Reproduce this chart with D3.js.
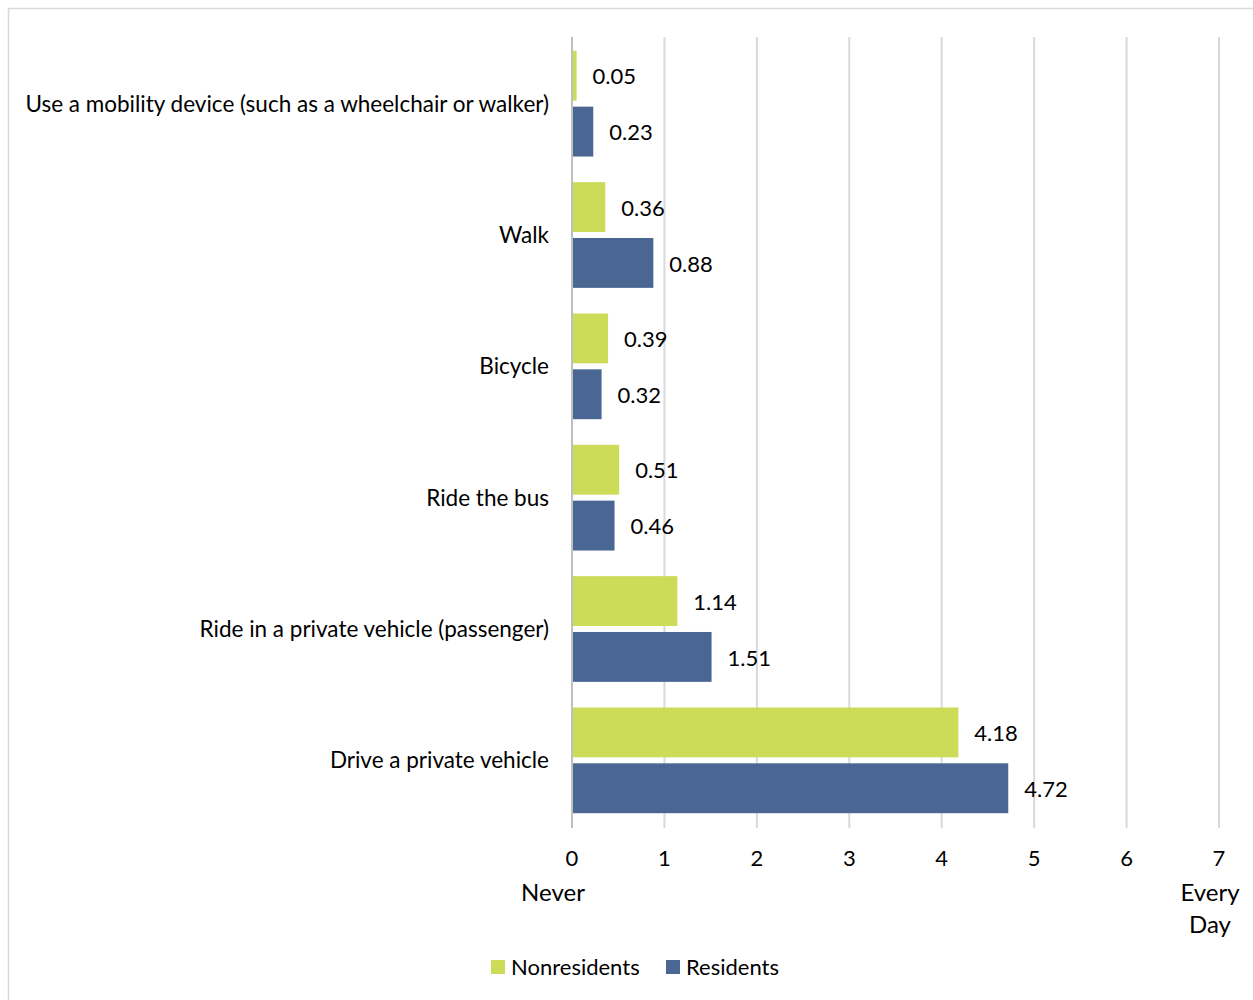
<!DOCTYPE html>
<html><head><meta charset="utf-8">
<script src="https://cdn.jsdelivr.net/npm/d3@7"></script>
<style>body{margin:0;background:#fff;}svg{display:block;font-family:Lato, "Open Sans", sans-serif;}</style>
</head><body>
<svg id="chart" width="1253" height="1000"></svg>
<script>
const categories = ["Use a mobility device (such as a wheelchair or walker)","Walk","Bicycle","Ride the bus","Ride in a private vehicle (passenger)","Drive a private vehicle"];
const nonresidents = [0.05,0.36,0.39,0.51,1.14,4.18];
const residents = [0.23,0.88,0.32,0.46,1.51,4.72];
const seriesNames = ["Nonresidents","Residents"];
const colors = ["#cddc58","#4a6794"];
const tickValues = [0,1,2,3,4,5,6,7];

const svg = d3.select("#chart");
svg.append("rect").attr("x",8.5).attr("y",8.5).attr("width",1260).attr("height",1000)
  .attr("fill","#fff").attr("stroke","#d9d9d9").attr("stroke-width",1.5);

const x = d3.scaleLinear().domain([0,7]).range([572,1219]);
const y = d3.scaleBand().domain(categories).range([38,826]).paddingInner(0.195).paddingOuter(0.0975);
const sub = d3.scaleBand().domain(seriesNames).range([0,y.bandwidth()]).paddingInner(0.107);

// gridlines
svg.append("g").selectAll("line").data(tickValues.slice(1)).join("line")
  .attr("x1",d=>x(d)).attr("x2",d=>x(d)).attr("y1",37).attr("y2",828)
  .attr("stroke","#d9d9d9").attr("stroke-width",2);

const data = [nonresidents,residents];
data.forEach((vals,si)=>{
  const g = svg.append("g");
  g.selectAll("rect").data(categories).join("rect")
    .attr("x",x(0)).attr("y",c=>y(c)+sub(seriesNames[si]))
    .attr("width",(c,i)=>x(vals[i])-x(0)).attr("height",sub.bandwidth())
    .attr("fill",colors[si]);
  g.selectAll("text").data(categories).join("text")
    .attr("x",(c,i)=>x(vals[i])+16).attr("y",c=>y(c)+sub(seriesNames[si])+sub.bandwidth()/2+1)
    .attr("dy","0.35em").attr("font-size",22).attr("fill","#000")
    .text((c,i)=>vals[i].toFixed(2));
});

// axis line
svg.append("line").attr("x1",x(0)).attr("x2",x(0)).attr("y1",37).attr("y2",828)
  .attr("stroke","#bfbfbf").attr("stroke-width",2);

// category labels
svg.append("g").selectAll("text").data(categories).join("text")
  .attr("x",549).attr("y",c=>y(c)+y.bandwidth()/2).attr("dy","0.35em")
  .attr("text-anchor","end").attr("font-size",22.5).attr("fill","#000").text(c=>c);

// tick labels
svg.append("g").selectAll("text").data(tickValues).join("text")
  .attr("x",d=>x(d)).attr("y",858).attr("dy","0.35em").attr("text-anchor","middle")
  .attr("font-size",22).attr("fill","#000").text(d=>d);
svg.append("text").attr("x",553).attr("y",893).attr("dy","0.35em").attr("text-anchor","middle")
  .attr("font-size",24).text("Never");
svg.append("text").attr("x",1210).attr("y",893).attr("dy","0.35em").attr("text-anchor","middle")
  .attr("font-size",24).text("Every");
svg.append("text").attr("x",1210).attr("y",925).attr("dy","0.35em").attr("text-anchor","middle")
  .attr("font-size",24).text("Day");

// legend
const leg = [{n:seriesNames[0],c:colors[0],x:491},{n:seriesNames[1],c:colors[1],x:666}];
const lg = svg.append("g").selectAll("g").data(leg).join("g");
lg.append("rect").attr("x",d=>d.x).attr("y",960).attr("width",14).attr("height",14).attr("fill",d=>d.c);
lg.append("text").attr("x",d=>d.x+20).attr("y",967).attr("dy","0.35em").attr("font-size",22).text(d=>d.n);
</script>
</body></html>
